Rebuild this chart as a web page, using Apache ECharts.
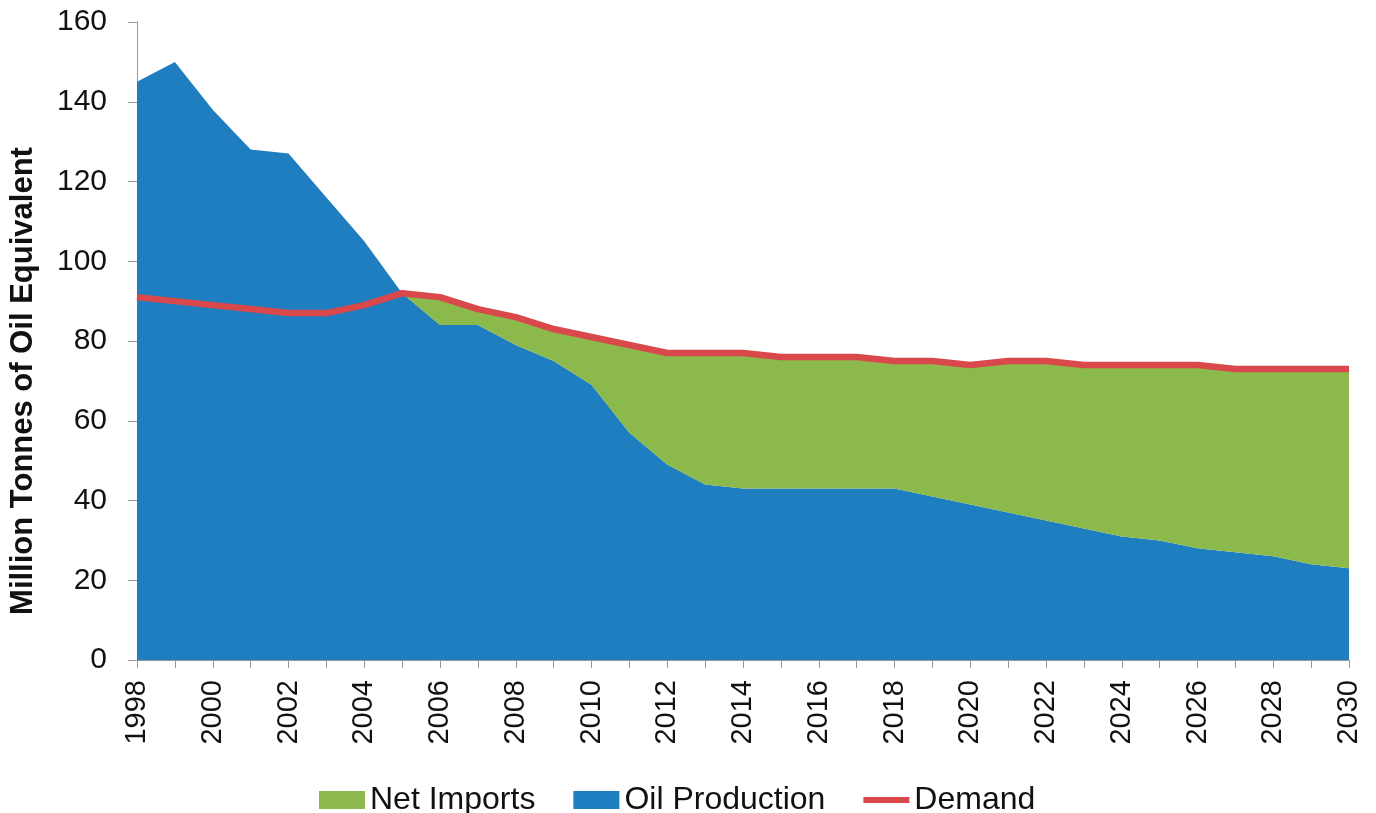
<!DOCTYPE html>
<html>
<head>
<meta charset="utf-8">
<script src="https://cdn.jsdelivr.net/npm/echarts@6/dist/echarts.min.js"></script>
<style>
  html, body { margin: 0; padding: 0; background: #fff; }
  #chart { width: 1376px; height: 813px; }
</style>
</head>
<body>
<div id="chart"></div>
<script>
  const years = [];
  for (let y = 1998; y <= 2030; y++) years.push(String(y));

  const production = [145, 150, 138, 128, 127, 116, 105, 92, 84, 84, 79, 75, 69, 57, 49, 44, 43, 43, 43, 43, 43, 41, 39, 37, 35, 33, 31, 30, 28, 27, 26, 24, 23];
  const demand = [91, 90, 89, 88, 87, 87, 89, 92, 91, 88, 86, 83, 81, 79, 77, 77, 77, 76, 76, 76, 75, 75, 74, 75, 75, 74, 74, 74, 74, 73, 73, 73, 73];
  // net imports = shortfall of production below demand
  const netImports = demand.map((d, i) => Math.max(0, d - production[i]));

  const chart = echarts.init(document.getElementById('chart'));
  chart.setOption({
    animation: false,
    textStyle: { fontFamily: 'Liberation Sans, Arial, sans-serif' },
    grid: { left: 136, right: 27, top: 22, bottom: 153 },
    legend: {
      top: 779,
      left: 314,
      itemWidth: 46,
      itemHeight: 18,
      itemGap: 38,
      textStyle: { fontSize: 32, color: '#111' },
      data: [
        { name: 'Net Imports', icon: 'rect' },
        { name: 'Oil Production', icon: 'rect' },
        // thin bar drawn in the middle of the legend box
        { name: 'Demand', icon: 'path://M0,0 M0,18 M0,6 L46,6 L46,12 L0,12 Z' }
      ]
    },
    xAxis: {
      type: 'category',
      data: years,
      boundaryGap: false,
      axisLine: { lineStyle: { color: '#999' } },
      axisTick: { interval: 0, length: 8, lineStyle: { color: '#999' } },
      axisLabel: {
        interval: 1,
        rotate: 90,
        fontSize: 29,
        color: '#111',
        margin: 20
      }
    },
    yAxis: {
      type: 'value',
      min: 0,
      max: 160,
      interval: 20,
      name: 'Million Tonnes of Oil Equivalent',
      nameLocation: 'middle',
      nameGap: 98,
      nameTextStyle: { fontSize: 31, fontWeight: 'bold', color: '#111', padding: [0, 80, 0, 0] },
      splitLine: { show: false },
      axisLine: { show: true, lineStyle: { color: '#999' } },
      axisTick: { show: true, length: 9, lineStyle: { color: '#999' } },
      axisLabel: { fontSize: 30, color: '#111', margin: 30 }
    },
    series: [
      {
        name: 'Oil Production',
        type: 'line',
        stack: 'supply',
        data: production,
        symbol: 'none',
        lineStyle: { width: 0 },
        itemStyle: { color: '#1f7ec0' },
        areaStyle: { color: '#1f7ec0', opacity: 1 }
      },
      {
        name: 'Net Imports',
        type: 'line',
        stack: 'supply',
        data: netImports,
        symbol: 'none',
        lineStyle: { width: 0 },
        itemStyle: { color: '#8cb94b' },
        areaStyle: { color: '#8cb94b', opacity: 1 }
      },
      {
        name: 'Demand',
        type: 'line',
        data: demand,
        symbol: 'none',
        lineStyle: { width: 6.5, color: '#d9484a' },
        itemStyle: { color: '#d9484a' },
        z: 5
      }
    ]
  });
</script>
</body>
</html>
